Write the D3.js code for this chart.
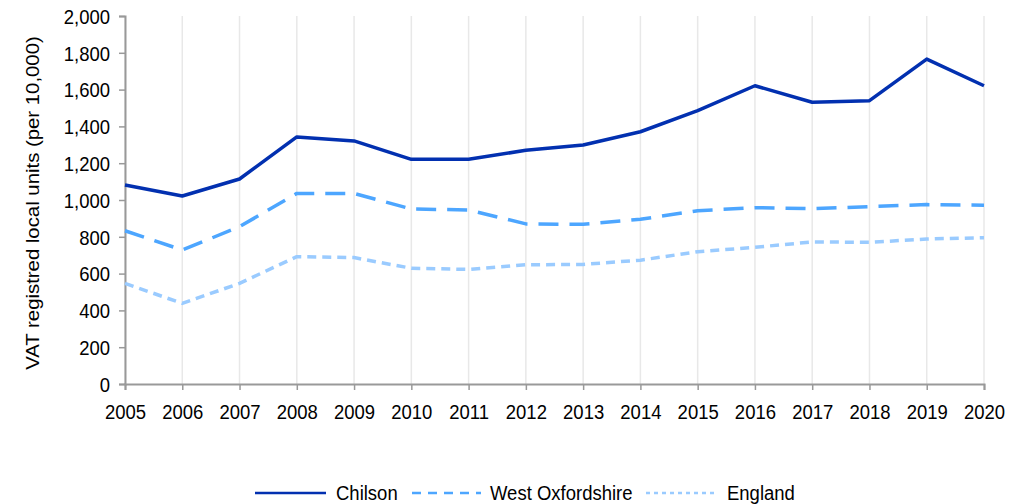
<!DOCTYPE html>
<html><head><meta charset="utf-8">
<script src="https://cdn.jsdelivr.net/npm/d3@7"></script>
<style>body{margin:0;background:#fff}svg{display:block}text{font-family:"Liberation Sans",Arial,sans-serif;fill:#000}</style>
</head><body><svg id="c" width="1025" height="504"></svg>
<script>
const years = [2005,2006,2007,2008,2009,2010,2011,2012,2013,2014,2015,2016,2017,2018,2019,2020];
const chilson = [1082,1022,1114,1343,1321,1221,1221,1270,1299,1371,1486,1621,1531,1540,1766,1621];
const westOxfordshire = [833,728,855,1036,1036,951,946,870,868,895,942,958,953,964,975,972];
const england = [547,438,547,692,687,629,623,648,650,673,719,743,772,770,788,795];
const yTicks = [0,200,400,600,800,1000,1200,1400,1600,1800,2000];
const seriesNames = ["Chilson","West Oxfordshire","England"];

(function(){
const FS = 18.5, SY = 1.1;
const svg = d3.select("#c");
const pl = 125, pr = 984, pt = 16, pb = 384;
const x = d3.scaleLinear().domain([2005,2020]).range([pl,pr]);
const y = d3.scaleLinear().domain([0,2000]).range([pb,pt]);

// vertical gridlines
svg.append("g").selectAll("line").data(years).join("line")
  .attr("x1",d=>x(d)).attr("x2",d=>x(d)).attr("y1",pt).attr("y2",pb)
  .attr("stroke","#e8e8e8").attr("stroke-width",1.5);

// y axis
const ya = svg.append("g").attr("transform",`translate(${pl},0)`)
  .call(d3.axisLeft(y).tickValues(yTicks).tickSize(6).tickPadding(8).tickFormat(d3.format(",")));
ya.select(".domain").attr("stroke","#999").attr("stroke-width",2);
ya.selectAll(".tick line").attr("stroke","#999").attr("stroke-width",1.5);
ya.selectAll("text").attr("font-size",FS).attr("fill","#000")
  .attr("x",null).attr("dy",null).attr("y",0)
  .attr("transform",`translate(-15,7.3) scale(1,${SY})`);

// x axis
const xa = svg.append("g").attr("transform",`translate(0,${pb})`)
  .call(d3.axisBottom(x).tickValues(years).tickSize(6).tickPadding(10).tickFormat(d3.format("d")));
xa.select(".domain").attr("stroke","#999").attr("stroke-width",2);
xa.selectAll(".tick line").attr("stroke","#999").attr("stroke-width",1.5);
xa.selectAll("text").attr("font-size",FS).attr("fill","#000")
  .attr("dy",null).attr("y",0)
  .attr("transform",`translate(0,35) scale(1,${SY})`);

// y label
svg.append("g").attr("transform",`translate(39,203) scale(1,${SY})`)
  .append("text").attr("transform","rotate(-90)")
  .attr("text-anchor","middle").attr("font-size",FS).text("VAT registred local units (per 10,000)");

const styles = [
  {data:chilson, color:"#0230B0", dash:null},
  {data:westOxfordshire, color:"#4DA6FF", dash:"20,11"},
  {data:england, color:"#9ACBFF", dash:"9,6"}
];
const line = d3.line().x((d,i)=>x(years[i])).y(d=>y(d));
styles.forEach(s=>{
  svg.append("path").datum(s.data).attr("d",line).attr("fill","none")
    .attr("stroke",s.color).attr("stroke-width",3.5).attr("stroke-linejoin","round")
    .attr("stroke-dasharray",s.dash);
});

// legend
const legItems = [
  {x1:255,x2:326,tx:336,color:"#0230B0",dash:null},
  {x1:412,x2:481,tx:490,color:"#4DA6FF",dash:"9,7"},
  {x1:646,x2:715,tx:727,color:"#9ACBFF",dash:"4,4"}
];
const ly = 493;
legItems.forEach((l,i)=>{
  svg.append("line").attr("x1",l.x1).attr("x2",l.x2).attr("y1",ly).attr("y2",ly)
    .attr("stroke",l.color).attr("stroke-width",2.5).attr("stroke-dasharray",l.dash);
  svg.append("text").attr("transform",`translate(${l.tx},${ly+6.5}) scale(1,${SY})`)
    .attr("font-size",FS).text(seriesNames[i]);
});
})();
</script></body></html>
